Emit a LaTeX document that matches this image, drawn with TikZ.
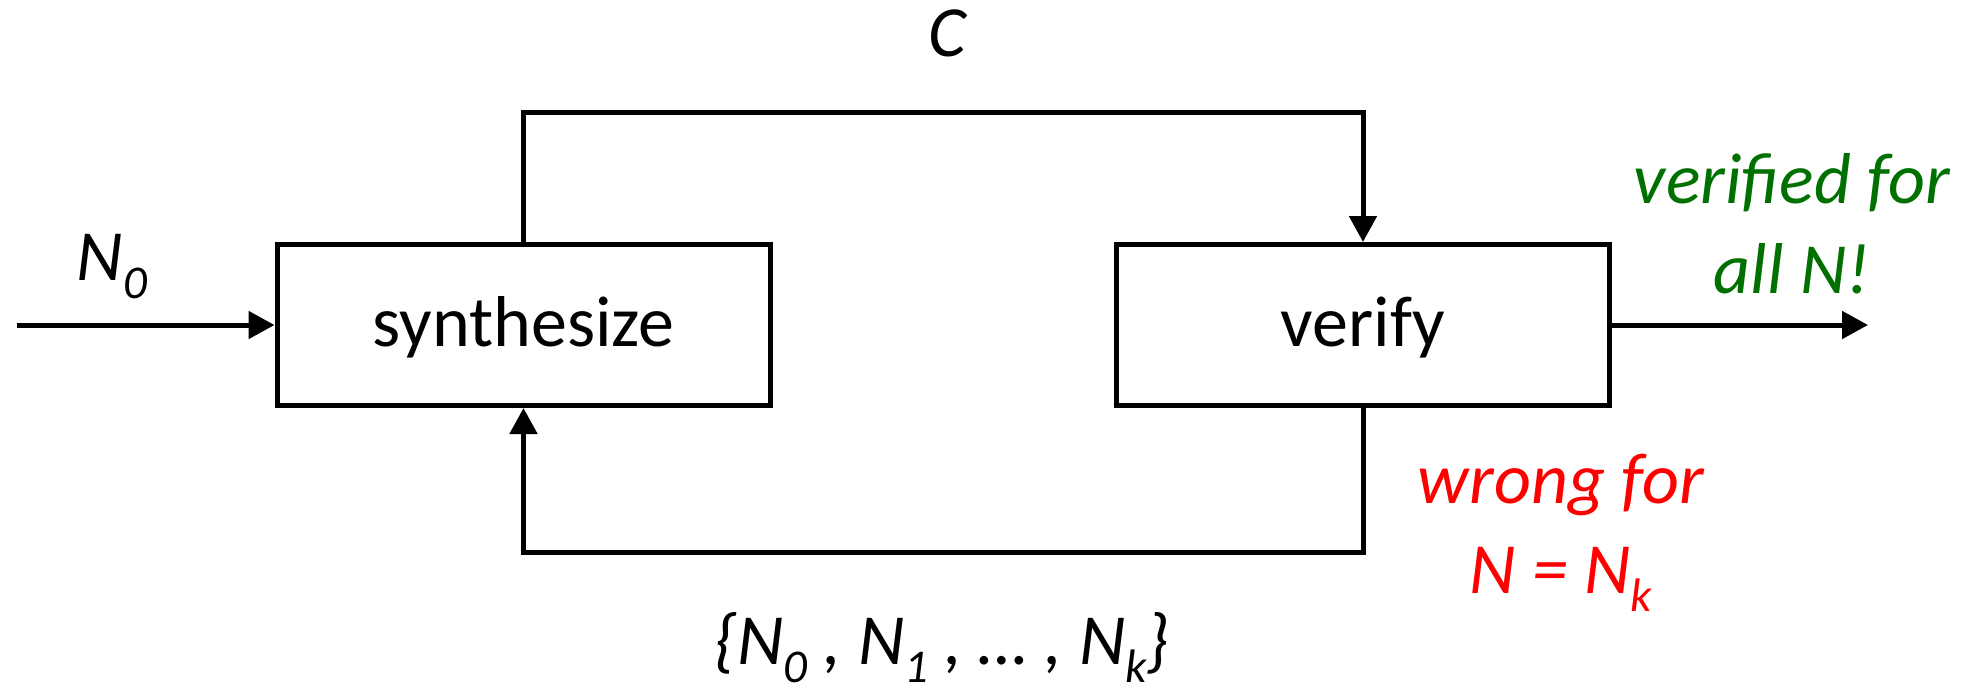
\documentclass[tikz,border=0pt]{standalone}
\usepackage{fontspec}
\setmainfont{Carlito}
\usetikzlibrary{arrows.meta}
\definecolor{okgreen}{RGB}{0,112,0}
\definecolor{errred}{RGB}{255,0,0}
\newcommand{\mysub}[1]{\raisebox{-0.25em}{\fontsize{23.5pt}{24pt}\selectfont #1}}
\begin{document}
\begin{tikzpicture}[x=0.5pt,y=-0.5pt,
  txt/.style={font=\fontsize{36pt}{45pt}\selectfont, inner sep=0pt},
  block/.style={draw, line width=2.5pt, minimum width=246.5pt, minimum height=80.5pt,
    inner sep=0pt, txt, text height=27pt, text depth=5.5pt},
  conn/.style={line width=2.5pt},
  arr/.style={conn, -{Triangle[length=13pt,width=13.5pt]}},
  lab/.style={inner sep=0pt, font=\fontsize{36pt}{45pt}\selectfont\itshape, anchor=base}]
\useasboundingbox (0,0) rectangle (1977,690);
\node[block] (syn) at (523.5,325) {synthesize};
\node[block] (ver) at (1363,325) {verify};
\coordinate (in) at (17,325);
\coordinate (out) at (1868,325);
\coordinate (toprow) at (0,112.5);
\coordinate (botrow) at (0,552);
\draw[arr] (in) -- (syn.west);
\draw[arr] (ver.east) -- (out);
\draw[arr] (syn.north) -- (syn.north |- toprow) -| (ver.north);
\draw[arr] (ver.south) -- (ver.south |- botrow) -| (syn.south);
\node[lab] (c) at (947,57) {C};
\node[lab] (n0) at (112,280) {N\mysub{0}};
\node[lab, text=okgreen, align=center] (okl) at (1792,293) {verified for\\all N!};
\node[lab, text=errred, align=center] (bad) at (1561,593) {wrong for\\N = N\mysub{k}};
\node[lab] (set) at (942,664) {\{N\mysub{0} , N\mysub{1} , … , N\mysub{k}\}};
\end{tikzpicture}
\end{document}
